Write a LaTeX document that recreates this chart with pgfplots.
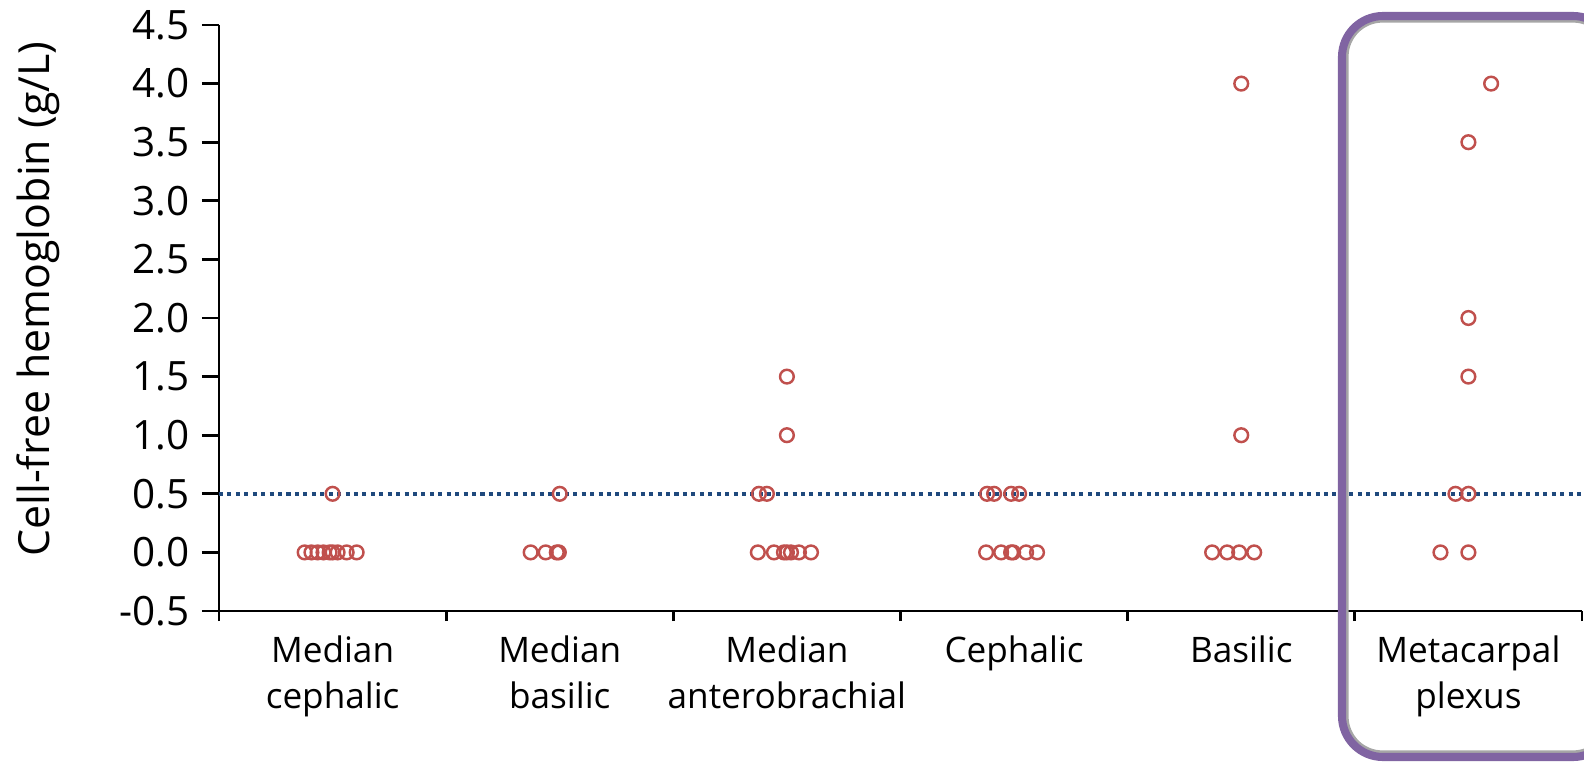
\documentclass[border=0pt]{standalone}
\usepackage{pgfplots}
\pgfplotsset{compat=1.18}
\usepackage{fontspec}
\setmainfont{Open Sans}
\definecolor{ptred}{HTML}{C0504D}
\definecolor{dotblue}{HTML}{1F497D}
\definecolor{boxpurple}{HTML}{8064A2}
\begin{document}
\begin{tikzpicture}
\begin{axis}[
  scale only axis,
  width=13.63cm, height=5.86cm,
  xmin=-0.5, xmax=5.5, ymin=-0.5, ymax=4.5,
  axis x line*=bottom, axis y line*=left,
  axis line style={line width=0.8pt, -},
  xtick={0,1,2,3,4,5},
  xticklabels={{Median\\cephalic},{Median\\basilic},{Median\\anterobrachial},{Cephalic},{Basilic},{Metacarpal\\plexus}},
  major x tick style={draw=none},
  minor xtick={-0.5,0.5,1.5,2.5,3.5,4.5,5.5},
  minor x tick style={line width=0.8pt, black},
  minor tick length=0.1cm,
  ytick={-0.5,0,0.5,1,1.5,2,2.5,3,3.5,4,4.5},
  major y tick style={line width=0.8pt, black},
  major tick length=0.17cm,
  tick align=outside,
  xticklabel style={align=center, font=\fontsize{10}{13.2}\selectfont, yshift=0.05cm},
  yticklabel style={font=\fontsize{11.5}{13}\selectfont},
  /pgf/number format/.cd, fixed, fixed zerofill, precision=1, assume math mode=true,
  /pgfplots/.cd,
  ylabel={Cell-free hemoglobin (g/L)},
  every axis y label/.style={at={(axis description cs:-0.1328,0.532)}, rotate=90, anchor=center, font=\fontsize{12.2}{14}\selectfont},
  clip=false,
]
\addplot[dotblue, line width=1.05pt, dash pattern=on 1.15pt off 1.25pt] coordinates {(-0.5,0.5) (5.51,0.5)};
\addplot[only marks, mark=o, mark size=1.95pt, mark options={ptred, line width=0.7pt}] coordinates {
(-0.123,0) (-0.093,0) (-0.066,0) (-0.04,0) (-0.013,0) (0,0) (0.022,0) (0.062,0) (0.106,0) (0,0.5)
(0.872,0) (0.938,0) (0.987,0) (0.996,0) (1.0,0.5)
(1.877,0.5) (1.912,0.5) (1.872,0) (1.943,0) (1.987,0) (2.0,0) (2.018,0) (2.053,0) (2.106,0) (2,1) (2,1.5)
(2.881,0.5) (2.912,0.5) (2.987,0.5) (3.022,0.5) (2.877,0) (2.943,0) (2.987,0) (2.996,0) (3.053,0) (3.101,0)
(3.872,0) (3.938,0) (3.991,0) (4.057,0) (4,1) (4,4)
(4.877,0) (5.0,0) (4.943,0.5) (5.0,0.5) (5,1.5) (5,2) (5,3.5) (5.10,4)
};
\end{axis}
\draw[gray!70, line width=1.2pt, rounded corners=0.36cm] (11.275,-1.415) rectangle (13.90,5.905);
\draw[boxpurple, line width=2.3pt, rounded corners=0.41cm] (11.23,-1.46) rectangle (13.95,5.95);
\pgfresetboundingbox
\useasboundingbox (-2.19,-1.59) rectangle (13.65,6.11);
\end{tikzpicture}
\end{document}
